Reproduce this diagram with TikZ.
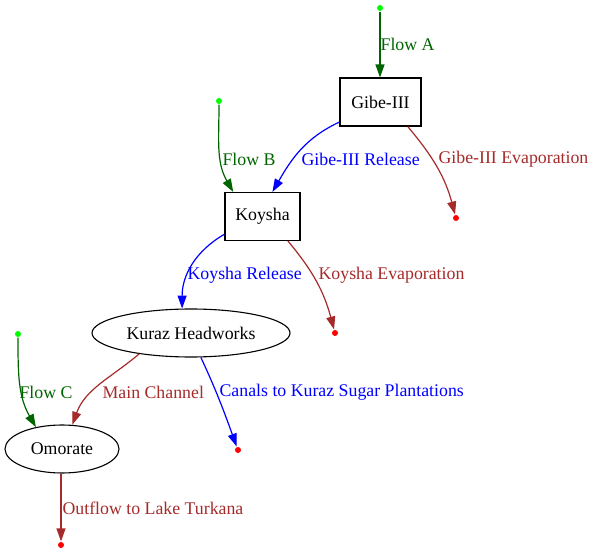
\documentclass[tikz,border=0pt]{standalone}
\usepackage{fontspec}
\setmainfont{Liberation Serif}
\usetikzlibrary{arrows.meta,shapes.geometric}
\definecolor{flowgreen}{RGB}{0,100,0}
\definecolor{lossbrown}{RGB}{165,42,42}
\definecolor{dotgreen}{RGB}{0,255,0}
\begin{document}
\begin{tikzpicture}[x=1pt, y=1pt, >={Triangle[length=13pt,width=9pt]},
	font=\fontsize{17.8}{20}\selectfont, line width=1.2pt,
	dam/.style={draw, rectangle, line width=1.1pt, minimum height=48pt},
	site/.style={draw, ellipse, line width=1.1pt, minimum height=48pt},
	src/.style={circle, fill=dotgreen, inner sep=0pt, minimum size=6pt},
	sink/.style={circle, fill=red, inner sep=0pt, minimum size=6pt},
	lbl/.style={anchor=west, inner sep=0pt}]
	\useasboundingbox (0,0) rectangle (594,552);
	% stations
	\node[dam, minimum width=81pt] (gibe) at (380.5,450) {Gibe-III};
	\node[dam, minimum width=75pt] (koysha) at (262.5,335.5) {Koysha};
	\node[site, minimum width=198pt] (kuraz) at (191,219) {Kuraz Headworks};
	\node[site, minimum width=114pt] (omorate) at (62,103) {Omorate};
	% inflows and outflows
	\node[src] (inA) at (380,544) {};
	\node[src] (inB) at (219,451) {};
	\node[src] (inC) at (18,218) {};
	\node[sink] (evapG) at (456,334) {};
	\node[sink] (evapK) at (335,219) {};
	\node[sink] (canal) at (238,102) {};
	\node[sink] (lake) at (61,7) {};
	% edges
	\draw[->, flowgreen] (inA) -- (inA |- gibe.north);
	\node[lbl, text=flowgreen] (lblA) at (380,508) {Flow A};
	\draw[->, flowgreen] (inB) to[out=-90, in=120] (koysha.140);
	\node[lbl, text=flowgreen] (lblB) at (222,393) {Flow B};
	\draw[->, blue] (gibe.206) to[out=205, in=60] (koysha.68);
	\node[lbl, text=blue] (lblGR) at (301,393) {Gibe-III Release};
	\draw[->, lossbrown] (gibe.-42) to[out=-50, in=105] (evapG);
	\node[lbl, text=lossbrown] (lblGE) at (438,393) {Gibe-III Evaporation};
	\draw[->, blue] (koysha.205) to[out=210, in=90] (kuraz.110);
	\node[lbl, text=blue] (lblKR) at (187,277) {Koysha Release};
	\draw[->, lossbrown] (koysha.-44) to[out=-50, in=105] (evapK);
	\node[lbl, text=lossbrown] (lblKE) at (318,277) {Koysha Evaporation};
	\draw[->, lossbrown] (kuraz.202) to[out=-140, in=70] (omorate.67);
	\node[lbl, text=lossbrown] (lblMC) at (102,160) {Main Channel};
	\draw[->, blue] (kuraz.-68) to[out=-65, in=110] (canal);
	\node[lbl, text=blue] (lblCK) at (219,160) {Canals to Kuraz Sugar Plantations};
	\draw[->, flowgreen] (inC) to[out=-90, in=120] (omorate.140);
	\node[lbl, text=flowgreen] (lblC) at (19,160) {Flow C};
	\draw[->, lossbrown] (lake |- omorate.south) -- (lake);
	\node[lbl, text=lossbrown] (lblOT) at (62,44) {Outflow to Lake Turkana};
\end{tikzpicture}
\end{document}
